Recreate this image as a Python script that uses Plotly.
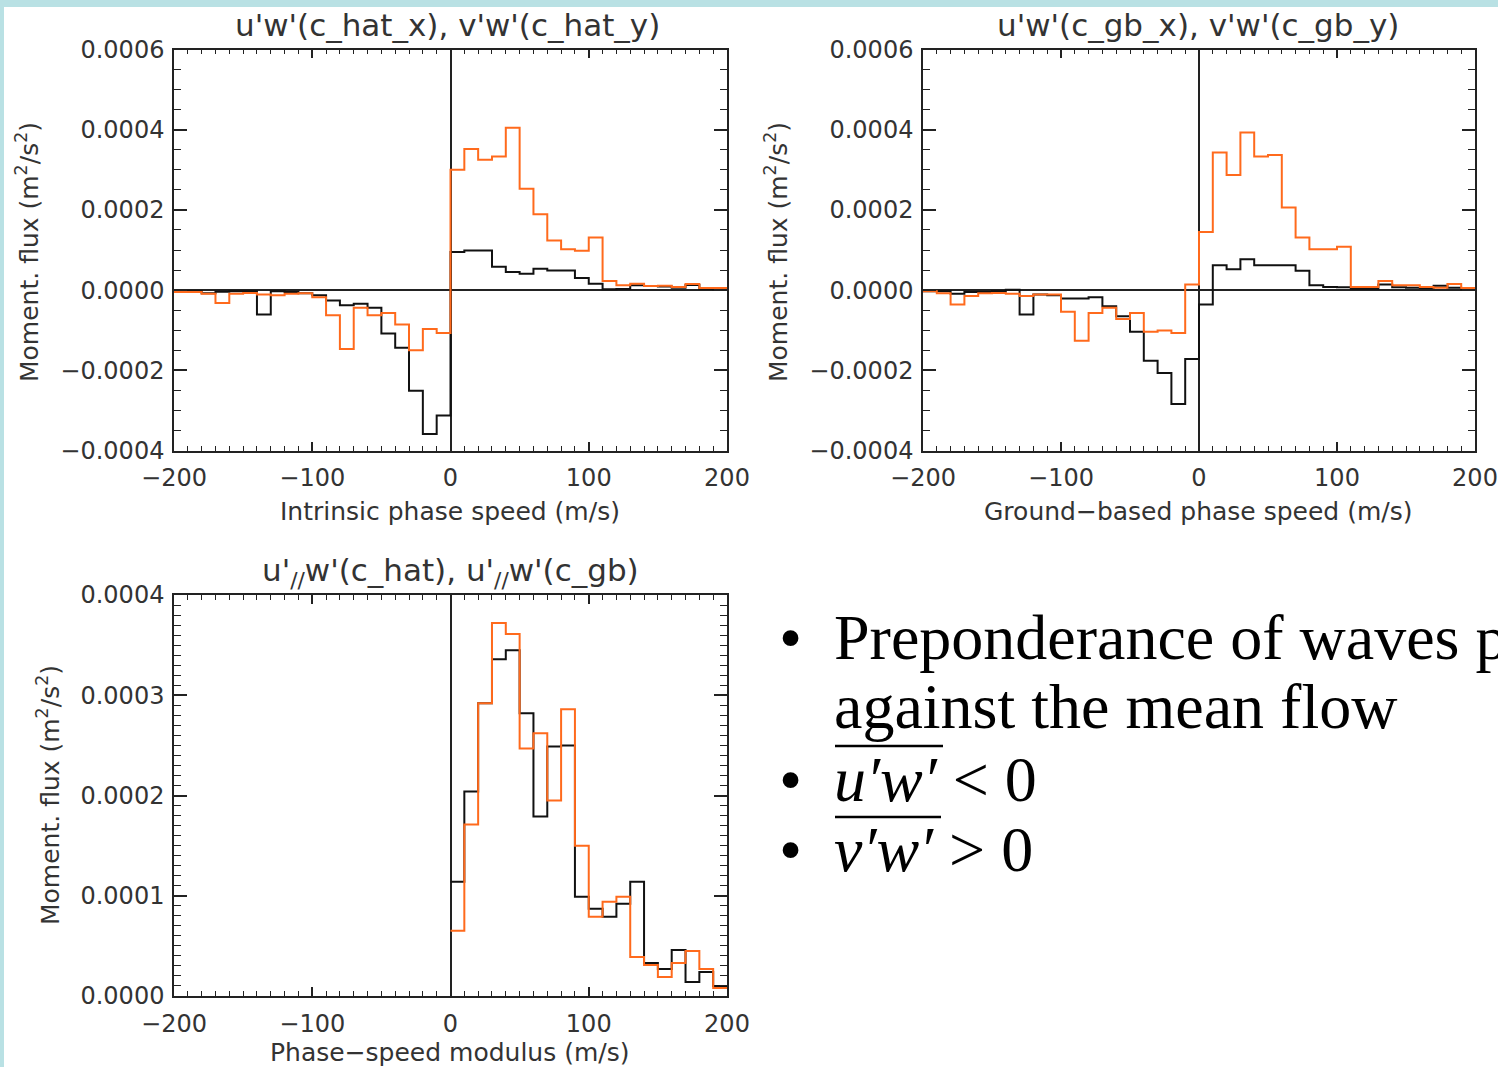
import plotly.graph_objects as go

# Phase-speed bin edges (m/s), 10 m/s bins
c_edges = list(range(-200, 201, 10))
c_edges_pos = list(range(0, 201, 10))

# Momentum flux per bin, intrinsic phase speed (m^2/s^2)
uw_hat = [-0.000003, -0.000003, -0.000008, -0.000004, -0.000003, -0.000003, -0.000061, -0.000003, -0.000005, -0.000008,
          -0.000013, -0.000026, -0.000038, -0.000034, -0.000044, -0.000108, -0.000144, -0.000251, -0.000359, -0.000313,
          0.000095, 0.000099, 0.000099, 0.000058, 0.000045, 0.000041, 0.000053, 0.000049, 0.000049, 0.000030,
          0.000016, 0.000002, 0.000003, 0.000012, 0.000010, 0.000009, 0.000006, 0.000013, 0.000003, 0.000002]
vw_hat = [-0.000005, -0.000005, -0.000009, -0.000032, -0.000009, -0.000007, -0.000011, -0.000013, -0.000009, -0.000008,
          -0.000018, -0.000063, -0.000147, -0.000044, -0.000063, -0.000057, -0.000086, -0.000150, -0.000097, -0.000107,
          0.000300, 0.000352, 0.000325, 0.000333, 0.000405, 0.000253, 0.000189, 0.000124, 0.000102, 0.000098,
          0.000131, 0.000023, 0.000012, 0.000016, 0.000010, 0.000011, 0.000008, 0.000015, 0.000005, 0.000005]

# Momentum flux per bin, ground-based phase speed
uw_gb = [-0.000003, -0.000003, -0.000009, -0.000005, -0.000005, -0.000003, 0.000001, -0.000061, -0.000011, -0.000013,
         -0.000021, -0.000021, -0.000018, -0.000040, -0.000065, -0.000104, -0.000176, -0.000207, -0.000284, -0.000172,
         -0.000036, 0.000062, 0.000052, 0.000077, 0.000062, 0.000062, 0.000062, 0.000048, 0.000012, 0.000008,
         0.000007, 0.000003, 0.000003, 0.000014, 0.000007, 0.000006, 0.000005, 0.000011, 0.000006, 0.000002]
vw_gb = [-0.000003, -0.000008, -0.000036, -0.000015, -0.000008, -0.000007, -0.000009, -0.000015, -0.000011, -0.000011,
         -0.000054, -0.000126, -0.000057, -0.000044, -0.000072, -0.000057, -0.000104, -0.000101, -0.000107, 0.000014,
         0.000145, 0.000343, 0.000287, 0.000393, 0.000333, 0.000337, 0.000206, 0.000131, 0.000102, 0.000102,
         0.000108, 0.000008, 0.000008, 0.000023, 0.000012, 0.000012, 0.000008, 0.000006, 0.000015, 0.000005]

# Flux along the propagation direction vs phase-speed modulus
upar_hat = [0.000114, 0.000204, 0.000292, 0.000336, 0.000345, 0.000282, 0.000179, 0.000249, 0.000250, 0.000099,
            0.000087, 0.000079, 0.000092, 0.000114, 0.000033, 0.000027, 0.000046, 0.000014, 0.000024, 0.000010]
upar_gb = [0.000065, 0.000171, 0.000292, 0.000372, 0.000361, 0.000247, 0.000262, 0.000195, 0.000286, 0.000150,
           0.000079, 0.000094, 0.000099, 0.000039, 0.000031, 0.000019, 0.000033, 0.000045, 0.000027, 0.000008]

x_ticks = [-200, -100, 0, 100, 200]
y_ticks_top = [-0.0004, -0.0002, 0.0, 0.0002, 0.0004, 0.0006]
y_ticks_bot = [0.0, 0.0001, 0.0002, 0.0003, 0.0004]

titles = ["u'w'(c_hat_x), v'w'(c_hat_y)", "u'w'(c_gb_x), v'w'(c_gb_y)",
          "u'<sub>//</sub>w'(c_hat), u'<sub>//</sub>w'(c_gb)"]
x_titles = ["Intrinsic phase speed (m/s)", "Ground\u2212based phase speed (m/s)", "Phase\u2212speed modulus (m/s)"]
y_title = "Moment. flux (m<sup>2</sup>/s<sup>2</sup>)"

W, H = 1498, 1067
BLACK = "#111111"
ORANGE = "#ff6a1c"
AX = "#222222"
SANS = "DejaVu Sans"
SERIF = "Liberation Serif"


def px(x):
    return x / W


def py(y):
    return 1 - y / H


fig = go.Figure()


def step(xaxis, yaxis, edges, vals, color):
    fig.add_trace(go.Scatter(
        x=edges, y=list(vals) + [vals[-1]], mode="lines", line_shape="hv",
        line=dict(color=color, width=2), xaxis=xaxis, yaxis=yaxis,
        showlegend=False, hoverinfo="skip"))


step("x", "y", c_edges, uw_hat, BLACK)
step("x", "y", c_edges, vw_hat, ORANGE)
step("x2", "y2", c_edges, uw_gb, BLACK)
step("x2", "y2", c_edges, vw_gb, ORANGE)
step("x3", "y3", c_edges_pos, upar_hat, BLACK)
step("x3", "y3", c_edges_pos, upar_gb, ORANGE)


def xaxis_cfg(x0, x1, anchor):
    return dict(domain=[px(x0), px(x1)], anchor=anchor, range=[-200, 200], automargin=False,
                tickvals=x_ticks, ticks="inside", ticklen=9, tickwidth=1.5, tickcolor=AX,
                ticklabelstandoff=5,
                minor=dict(dtick=10, ticks="inside", ticklen=5, tickwidth=1.2, tickcolor=AX),
                showline=True, linecolor=AX, linewidth=1.5, mirror="allticks",
                showgrid=False, zeroline=True, zerolinecolor=AX, zerolinewidth=1.5,
                tickfont=dict(family=SANS, size=24, color="#333"))


def yaxis_cfg(y0, y1, anchor, rng, tv, mdt):
    return dict(domain=[py(y1), py(y0)], anchor=anchor, range=rng, automargin=False,
                tickvals=tv, tickformat=".4f", ticks="inside", ticklen=13, tickwidth=1.5, tickcolor=AX,
                ticklabelstandoff=3,
                minor=dict(dtick=mdt, ticks="inside", ticklen=7, tickwidth=1.2, tickcolor=AX),
                showline=True, linecolor=AX, linewidth=1.5, mirror="allticks",
                showgrid=False, zeroline=True, zerolinecolor=AX, zerolinewidth=1.5,
                tickfont=dict(family=SANS, size=24, color="#333"))


fig.update_layout(
    width=W, height=H, autosize=False,
    margin=dict(l=0, r=0, t=0, b=0, pad=0),
    paper_bgcolor="#b9e1e4", plot_bgcolor="white",
    xaxis=xaxis_cfg(174, 727, "y"),
    yaxis=yaxis_cfg(49.5, 450.5, "x", [-0.0004, 0.0006], y_ticks_top, 0.00005),
    xaxis2=xaxis_cfg(923, 1475, "y2"),
    yaxis2=yaxis_cfg(49.5, 450.5, "x2", [-0.0004, 0.0006], y_ticks_top, 0.00005),
    xaxis3=xaxis_cfg(174, 727, "y3"),
    yaxis3=yaxis_cfg(595, 996, "x3", [0, 0.0004], y_ticks_bot, 0.00001),
)

# White slide area inside the cyan frame
fig.add_shape(type="rect", xref="paper", yref="paper", x0=px(4), x1=1.0, y0=0.0, y1=py(7),
              fillcolor="white", line_width=0, layer="below")

ann = []
text_font = dict(family=SANS, color="#333")
for t, (cx, cy) in zip(titles, [(448, 25), (1198, 25), (450, 572)]):
    ann.append(dict(text=t, x=px(cx), y=py(cy), font=dict(size=31, **text_font)))
for t, (cx, cy) in zip(x_titles, [(450, 511), (1198, 511), (450, 1052)]):
    ann.append(dict(text=t, x=px(cx), y=py(cy), font=dict(size=25, **text_font)))
for cx, cy in [(28, 252), (777, 252), (48, 795)]:
    ann.append(dict(text=y_title, x=px(cx), y=py(cy), textangle=-90, font=dict(size=25, **text_font)))

# Bullet text on the right
serif = dict(family=SERIF, size=64, color="black")
bullet_rows = [(637, "Preponderance of waves p"), (706, "against the mean flow"),
               (779, "<i>u\u2032w\u2032</i> < 0"), (849, "<i>v\u2032w\u2032</i> > 0")]
for i, (cy, t) in enumerate(bullet_rows):
    ann.append(dict(text=t, x=px(832), y=py(cy), xanchor="left", font=serif))
    if i != 1:
        ann.append(dict(text="\u2022", x=px(790), y=py(cy), font=dict(family=SERIF, size=66, color="black")))

for a in ann:
    a.setdefault("xref", "paper")
    a.setdefault("yref", "paper")
    a.setdefault("showarrow", False)
    a.setdefault("xanchor", "center")
    a.setdefault("yanchor", "middle")
fig.update_layout(annotations=ann)

# Overbars for the averaged fluxes
for x0, x1, yy in [(835, 943, 746), (835, 941, 817)]:
    fig.add_shape(type="line", xref="paper", yref="paper", x0=px(x0), x1=px(x1), y0=py(yy), y1=py(yy),
                  line=dict(color="black", width=2.5))

fig.write_html("out.html")
